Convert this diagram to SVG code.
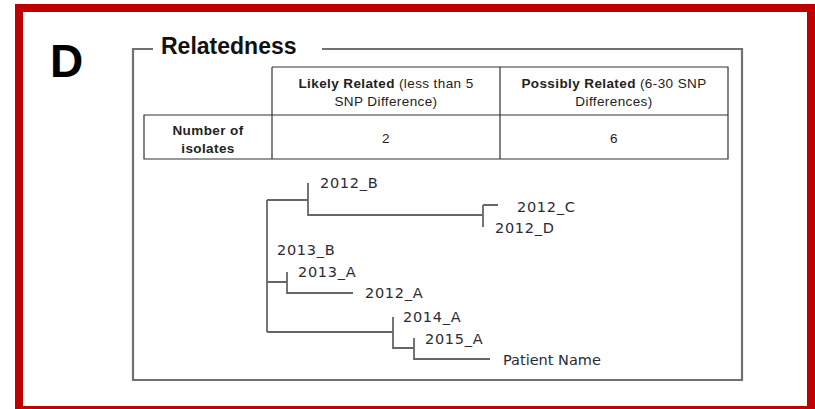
<svg xmlns="http://www.w3.org/2000/svg" width="815" height="409" viewBox="0 0 815 409">
<style>
.frame{fill:none;stroke:#c00000;stroke-width:8}
.box{fill:none;stroke:#707070;stroke-width:2.2}
.tbl{fill:none;stroke:#333;stroke-width:1.2}
.br{fill:none;stroke:#666;stroke-width:1.8}
.hd{font-family:"Liberation Sans",Arial,sans-serif;font-size:13.5px;fill:#222;text-anchor:middle;letter-spacing:0.4px}
.b{font-weight:bold}
.lf{font-family:"DejaVu Sans",Verdana,sans-serif;font-size:14.5px;fill:#2b2b35;letter-spacing:0.7px}
</style>
<rect class="frame" x="19" y="8" width="792" height="402"/>
<text x="50" y="77" font-family="Liberation Sans,Arial,sans-serif" font-weight="bold" font-size="46" fill="#000">D</text>
<g id="relatedness-box">
<path class="box" d="M153,49 H133 V380 H742 V49 H322"/>
<text x="161" y="54" font-family="Liberation Sans,Arial,sans-serif" font-weight="bold" font-size="23" fill="#111">Relatedness</text>
</g>
<g id="table">
<path class="tbl" d="M272,67 H728 V159 H144 V115 H728 M272,67 V159 M500,67 V159"/>
<text class="hd" x="386" y="88"><tspan class="b">Likely Related</tspan> (less than 5</text>
<text class="hd" x="386" y="106">SNP Difference)</text>
<text class="hd" x="614" y="88"><tspan class="b">Possibly Related</tspan> (6-30 SNP</text>
<text class="hd" x="614" y="106">Differences)</text>
<text class="hd b" x="208" y="135">Number of</text>
<text class="hd b" x="208" y="153">isolates</text>
<text class="hd" x="386" y="143">2</text>
<text class="hd" x="614" y="143">6</text>
</g>
<g id="connectors">
<path class="br" d="M267,200 V332 M267,200 H308 M308,183 V215 H483 M483,205 V227 M483,205 H498"/>
<path class="br" d="M267,282 H287 M287,272 V293 H353"/>
<path class="br" d="M267,332 H393 M393,317 V348 H414 M414,338 V359 H490"/>
</g>
<g id="n-2012B"><text class="lf" x="320" y="188">2012_B</text></g>
<g id="n-2012C"><text class="lf" x="517" y="212">2012_C</text></g>
<g id="n-2012D"><text class="lf" x="495" y="233">2012_D</text></g>
<g id="n-2013B"><text class="lf" x="277" y="255">2013_B</text></g>
<g id="n-2013A"><text class="lf" x="298" y="277">2013_A</text></g>
<g id="n-2012A"><text class="lf" x="365" y="298">2012_A</text></g>
<g id="n-2014A"><text class="lf" x="403" y="322">2014_A</text></g>
<g id="n-2015A"><text class="lf" x="425" y="344">2015_A</text></g>
<g id="n-patient"><text class="lf" x="503" y="365" style="letter-spacing:0">Patient Name</text></g>
</svg>
